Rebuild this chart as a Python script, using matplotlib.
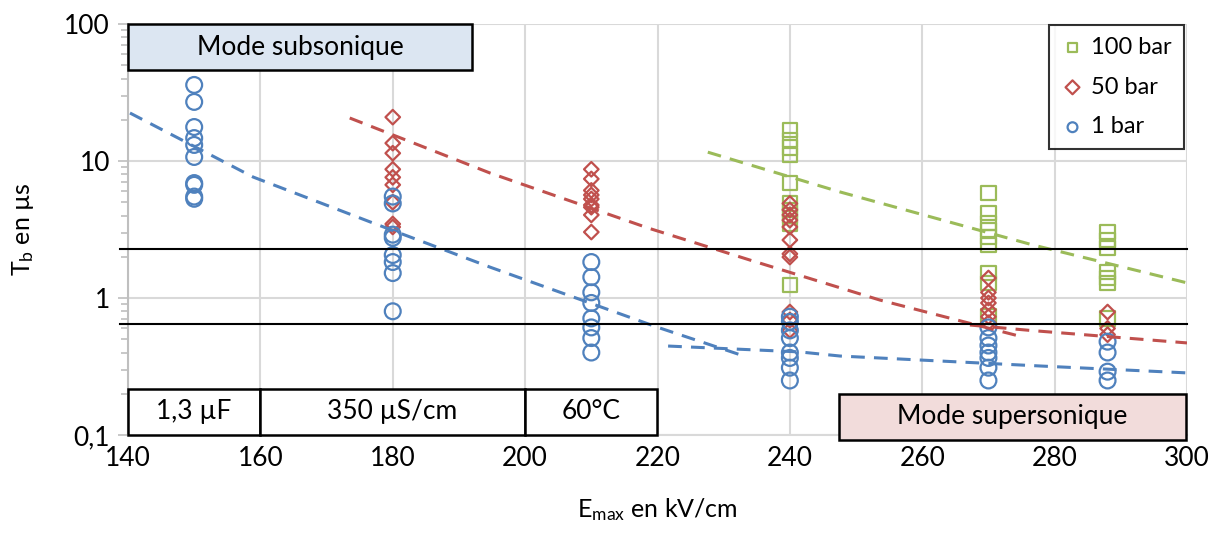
import numpy as np
import matplotlib
matplotlib.use('Agg')
import matplotlib.pyplot as plt
from matplotlib.ticker import FixedLocator, FuncFormatter, LogLocator, NullFormatter
import matplotlib.transforms as mtransforms

plt.rcParams['font.family'] = ['Lato', 'DejaVu Sans']
plt.rcParams['mathtext.fontset'] = 'custom'
plt.rcParams['mathtext.rm'] = 'Lato'
plt.rcParams['mathtext.it'] = 'Lato'

# measured points (E_max in kV/cm, T_b in us)
x_1bar = [150]*10 + [180]*8 + [210]*8 + [240]*8 + [270]*7 + [288]*4
y_1bar = [35.9, 27, 17.7, 14.7, 13.1, 10.7, 6.9, 6.7, 5.5, 5.3,
          5.5, 4.9, 2.9, 2.75, 2.06, 1.83, 1.52, 0.80,
          1.83, 1.42, 1.1, 0.92, 0.71, 0.61, 0.51, 0.40,
          0.73, 0.67, 0.58, 0.51, 0.40, 0.365, 0.31, 0.25,
          0.61, 0.51, 0.45, 0.40, 0.365, 0.31, 0.25,
          0.48, 0.40, 0.29, 0.25]

x_50bar = [180]*9 + [210]*9 + [240]*11 + [270]*7 + [288]*3
y_50bar = [20.9, 13.5, 11.4, 8.7, 7.6, 6.7, 5.0, 3.47, 3.3,
           8.7, 7.4, 6.1, 5.65, 5.28, 4.77, 4.6, 4.04, 3.03,
           4.9, 4.4, 4.04, 3.7, 3.3, 2.65, 2.1, 1.99, 0.79, 0.69, 0.58,
           1.40, 1.1, 1.0, 0.92, 0.82, 0.73, 0.66,
           0.79, 0.60, 0.54]

x_100bar = [240]*10 + [270]*9 + [288]*7
y_100bar = [16.8, 14.2, 12.6, 11.1, 6.9, 4.9, 4.4, 4.0, 3.5, 1.24,
            5.84, 4.17, 3.53, 3.13, 2.79, 2.44, 1.52, 1.29, 0.73,
            3.03, 2.65, 2.32, 1.55, 1.40, 1.29, 0.71]

# trend lines
trend_1bar_sub_x = [140.3, 158.9, 176.6, 194.7, 219.9, 233.5]
trend_1bar_sub_y = [22.4, 7.64, 3.59, 1.68, 0.614, 0.371]
trend_1bar_sup_x = [221.6, 241.5, 247.6, 277.8, 300]
trend_1bar_sup_y = [0.446, 0.404, 0.377, 0.319, 0.284]
trend_50bar_sub_x = [173.5, 194.7, 218.6, 234.0, 253.6, 275.2]
trend_50bar_sub_y = [20.6, 8.17, 3.24, 1.89, 0.966, 0.519]
trend_50bar_sup_x = [267.2, 276.3, 300]
trend_50bar_sup_y = [0.635, 0.58, 0.47]
trend_100bar_x = [227.6, 247.6, 276.7, 300]
trend_100bar_y = [11.6, 5.94, 2.44, 1.29]

limits = [2.28, 0.646]

blue = '#4f81bd'
red = '#c0504d'
green = '#9bbb59'

fig = plt.figure(figsize=(12.18, 5.34), dpi=100)
ax = fig.add_axes([128/1218, 1 - 435/534, 1059/1218, 411/534])

ax.set_xlim(140, 300)
ax.set_ylim(0.1, 100)
ax.set_yscale('log')

ax.scatter(x_100bar, y_100bar, marker='s', s=110, facecolors='none',
           edgecolors=green, linewidths=1.6, label='100 bar', zorder=3)
ax.scatter(x_50bar, y_50bar, marker='D', s=55, facecolors='none',
           edgecolors=red, linewidths=1.6, label='50 bar', zorder=4)
ax.scatter(x_1bar, y_1bar, marker='o', s=130, facecolors='none',
           edgecolors=blue, linewidths=1.6, label='1 bar', zorder=5)

dash = dict(linestyle=(0, (4.5, 3)), linewidth=2.2, zorder=6)
ax.plot(trend_1bar_sub_x, trend_1bar_sub_y, color=blue, **dash)
ax.plot(trend_1bar_sup_x, trend_1bar_sup_y, color=blue, **dash)
ax.plot(trend_50bar_sub_x, trend_50bar_sub_y, color=red, **dash)
ax.plot(trend_50bar_sup_x, trend_50bar_sup_y, color=red, **dash)
ax.plot(trend_100bar_x, trend_100bar_y, color=green, **dash)

trans = mtransforms.blended_transform_factory(ax.transAxes, ax.transData)
for lim in limits:
    ax.plot([-0.008, 1.0], [lim, lim], color='black', linewidth=1.5,
            transform=trans, clip_on=False, zorder=7)

# grid and axes
ax.xaxis.set_major_locator(FixedLocator(range(140, 301, 20)))
ax.yaxis.set_major_locator(FixedLocator([0.1, 1, 10, 100]))
ax.yaxis.set_minor_locator(LogLocator(base=10, subs=np.arange(2, 10)))
ax.yaxis.set_minor_formatter(NullFormatter())
ax.yaxis.set_major_formatter(FuncFormatter(
    lambda v, p: {0.1: '0,1', 1: '1', 10: '10', 100: '100'}.get(round(v, 3), '')))
ax.grid(True, which='major', color='#d9d9d9', linewidth=1.5, zorder=0)
ax.set_axisbelow(True)
for s in ['top', 'right']:
    ax.spines[s].set_visible(False)
ax.spines['left'].set_color('#bfbfbf')
ax.spines['left'].set_linewidth(1.5)
ax.spines['bottom'].set_color('#d9d9d9')
ax.spines['bottom'].set_linewidth(1.5)
ax.tick_params(axis='y', which='both', direction='out', color='#bfbfbf',
               width=1.2, labelsize=19, pad=6)
ax.tick_params(axis='y', which='major', length=7)
ax.tick_params(axis='y', which='minor', length=5)
ax.tick_params(axis='x', length=0, labelsize=19, pad=8)

ax.set_xlabel('E$_{\\mathrm{max}}$ en kV/cm', fontsize=18, labelpad=18)
ax.set_ylabel('T$_{\\mathrm{b}}$ en µs', fontsize=18, labelpad=20)

# annotation boxes
def text_box(x0, x1, y0, y1, label, fc):
    r = plt.Rectangle((x0, y0), x1 - x0, y1 - y0, transform=ax.transAxes,
                      facecolor=fc, edgecolor='black', linewidth=1.8,
                      clip_on=False, zorder=8)
    ax.add_patch(r)
    ax.text((x0 + x1) / 2, (y0 + y1) / 2, label, transform=ax.transAxes,
            ha='center', va='center', fontsize=19, zorder=9)

text_box(0.0, 0.325, 0.888, 1.0, 'Mode subsonique', '#dce6f2')
text_box(0.0, 0.1246, 0.0, 0.112, '1,3 µF', 'white')
text_box(0.1246, 0.375, 0.0, 0.112, '350 µS/cm', 'white')
text_box(0.375, 0.4995, 0.0, 0.112, '60°C', 'white')
text_box(0.671, 0.999, -0.012, 0.100, 'Mode supersonique', '#f2dcdb')

leg = ax.legend(loc='upper right', bbox_to_anchor=(0.997, 0.998), fontsize=17,
                frameon=True, fancybox=False, edgecolor='black',
                handletextpad=0.3, handlelength=1.0, borderpad=0.5,
                labelspacing=0.8, borderaxespad=0)
leg.get_frame().set_linewidth(1.5)
leg.set_zorder(10)
for h in leg.legend_handles:
    h.set_sizes([50])

fig.savefig('out.png', dpi=100)
